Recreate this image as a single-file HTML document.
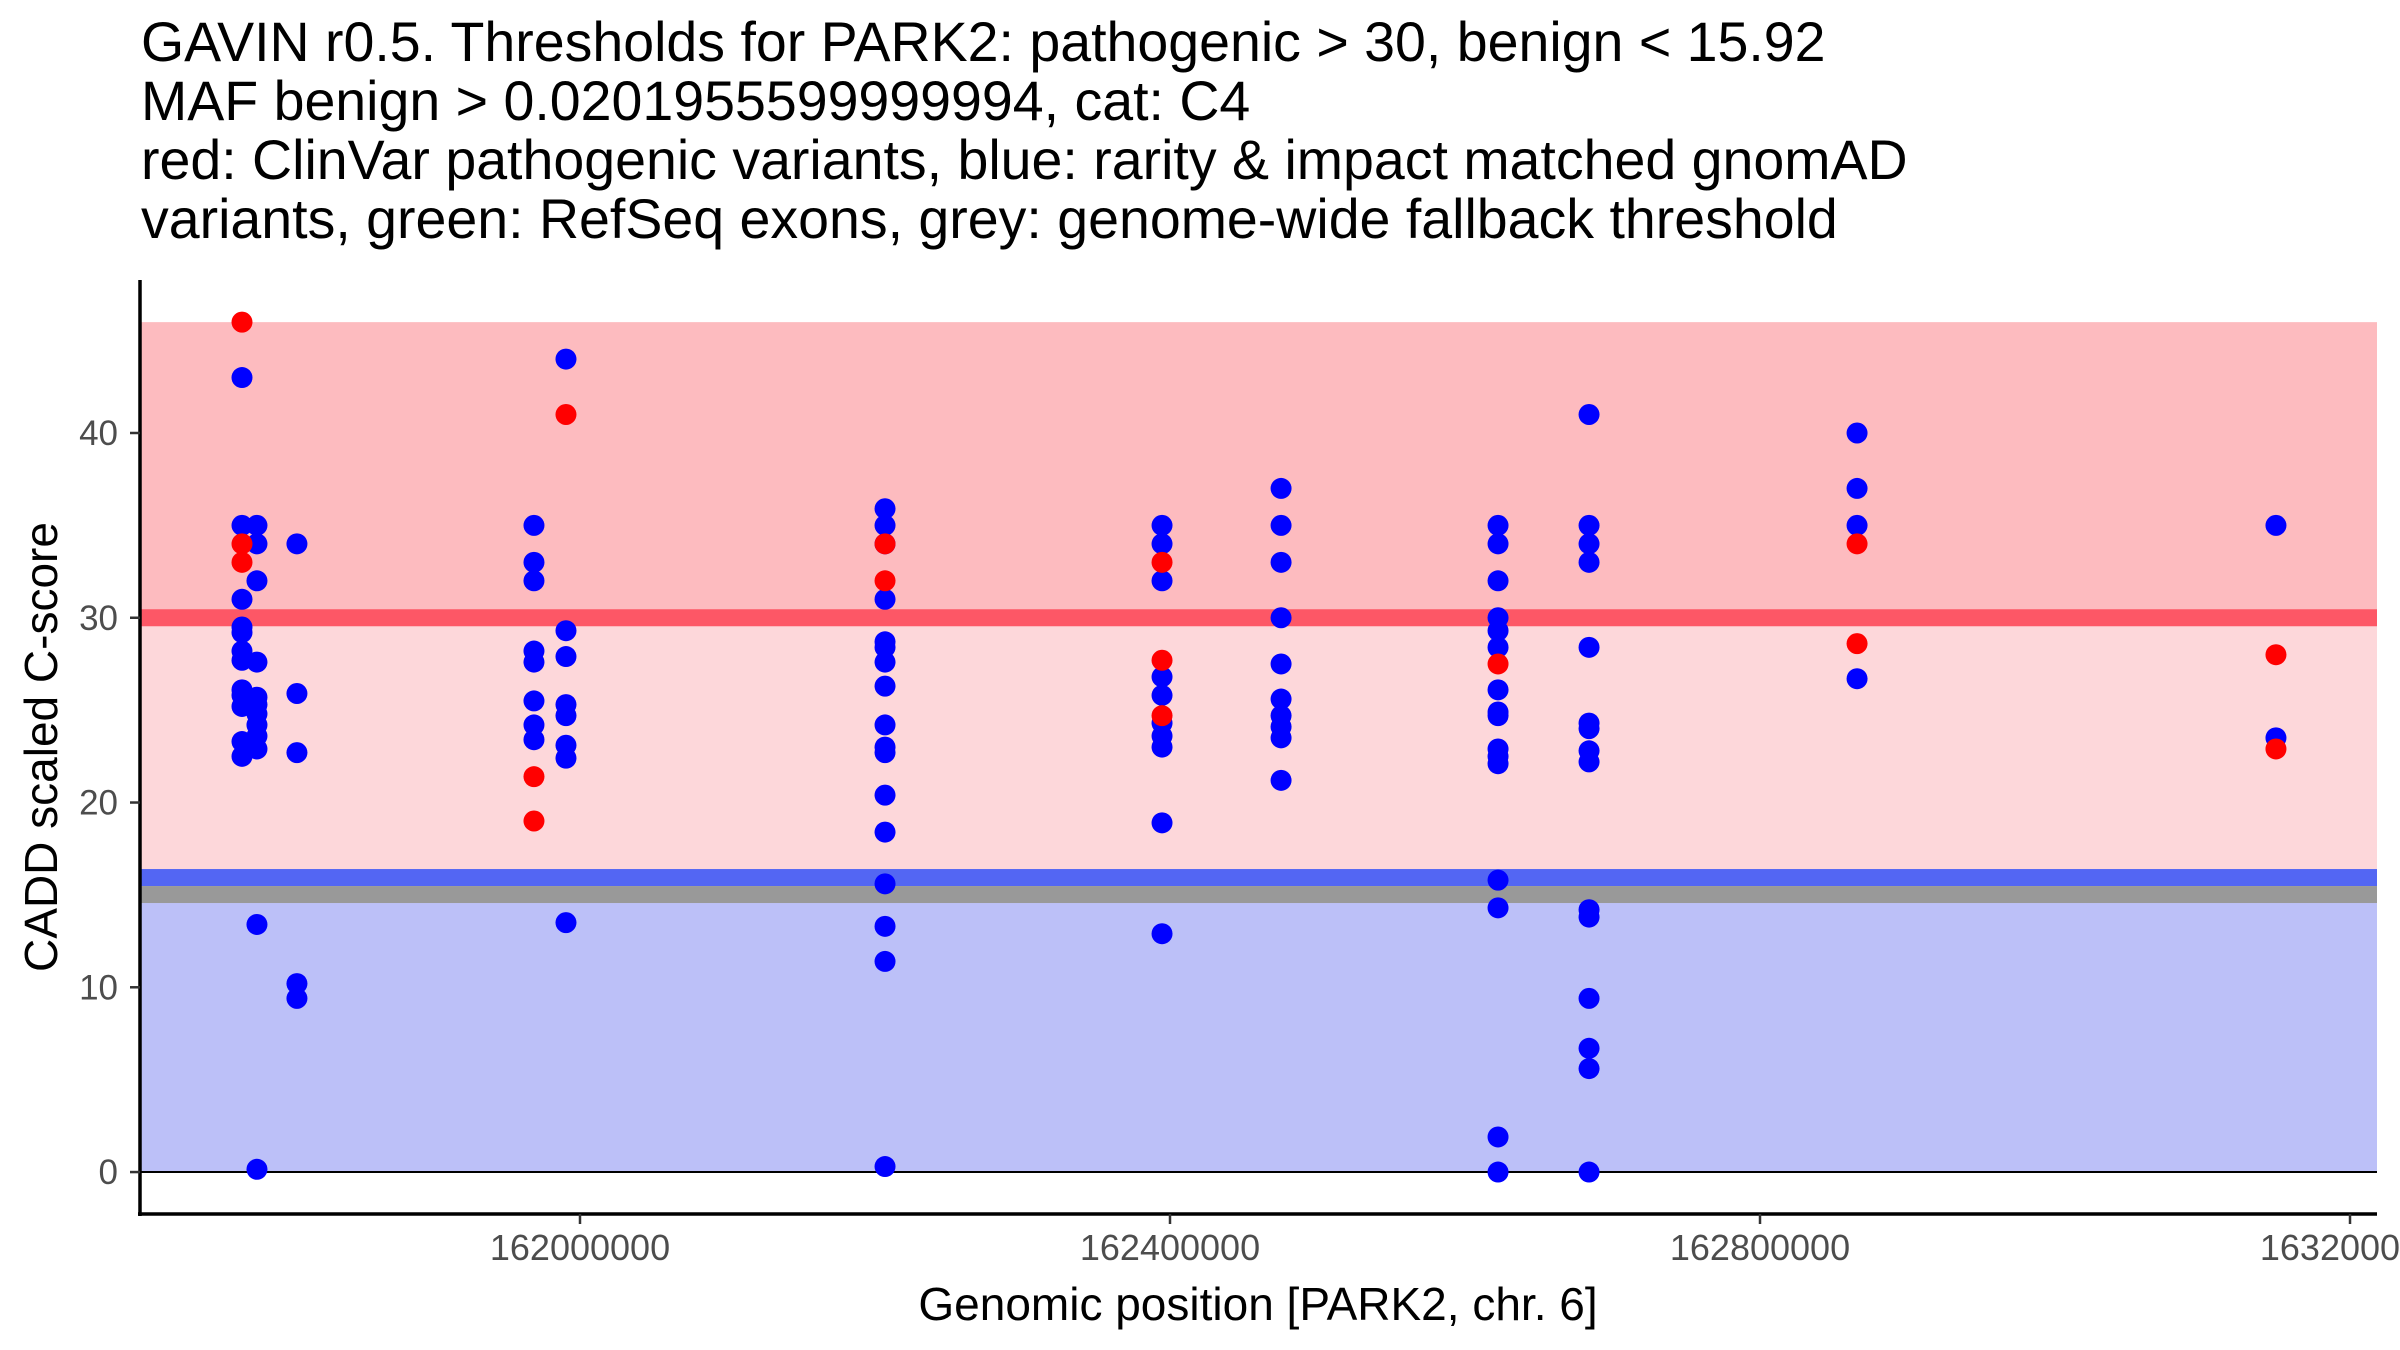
<!DOCTYPE html>
<html><head><meta charset="utf-8"><style>
html,body{margin:0;padding:0;background:#fff;}
svg{display:block;font-family:"Liberation Sans",Arial,sans-serif;}
</style></head><body>
<svg id="chart" width="2400" height="1350" viewBox="0 0 2400 1350" xmlns="http://www.w3.org/2000/svg">
<g font-size="55.5" fill="#000">
<text x="141" y="61">GAVIN r0.5. Thresholds for PARK2: pathogenic &gt; 30, benign &lt; 15.92</text>
<text x="141" y="120">MAF benign &gt; 0.0201955599999994, cat: C4</text>
<text x="141" y="179">red: ClinVar pathogenic variants, blue: rarity &amp; impact matched gnomAD</text>
<text x="141" y="238">variants, green: RefSeq exons, grey: genome-wide fallback threshold</text>
</g>
<g id="plot"></g>
<text x="1258" y="1320" font-size="46" text-anchor="middle" fill="#000">Genomic position [PARK2, chr. 6]</text>
<text transform="translate(57,747) rotate(-90)" font-size="46" text-anchor="middle" fill="#000">CADD scaled C-score</text>
</svg>
<script>
const xTicks = [162000000, 162400000, 162800000, 163200000];
const yTicks = [0, 10, 20, 30, 40];
const pathogenicThreshold = 30;
const benignThreshold = 15.92;
const fallbackLow = 14.56, fallbackHigh = 15.48;
const benignLineTop = 16.4;
const bandTop = 46;
const bluePos = [
161770850,161770850,161770850,161770850,161770850,161770850,161770850,161770850,161770850,161770850,161770850,161770850,
161781000,161781000,161781000,161781000,161781000,161781000,161781000,161781000,161781000,161781000,161781000,161781000,
161808100,161808100,161808100,161808100,161808100,
161968800,161968800,161968800,161968800,161968800,161968800,161968800,161968800,
161990500,161990500,161990500,161990500,161990500,161990500,161990500,161990500,
162206800,162206800,162206800,162206800,162206800,162206800,162206800,162206800,162206800,162206800,162206800,162206800,162206800,162206800,162206800,162206800,162206800,
162394600,162394600,162394600,162394600,162394600,162394600,162394600,162394600,162394600,162394600,
162475300,162475300,162475300,162475300,162475300,162475300,162475300,162475300,162475300,162475300,
162622400,162622400,162622400,162622400,162622400,162622400,162622400,162622400,162622400,162622400,162622400,162622400,162622400,162622400,162622400,162622400,
162684100,162684100,162684100,162684100,162684100,162684100,162684100,162684100,162684100,162684100,162684100,162684100,162684100,162684100,162684100,
162865800,162865800,162865800,162865800,
163149800,163149800];
const blueScore = [
43,35,31,29.5,29.2,28.2,27.7,26.1,25.8,25.2,23.3,22.5,
35,34,32,27.6,25.7,25.3,24.8,24.2,23.6,22.9,13.4,0.15,
34,25.9,22.7,10.2,9.4,
35,33,32,28.2,27.6,25.5,24.2,23.4,
44,29.3,27.9,25.3,24.7,23.1,22.4,13.5,
35.9,35,34,31,28.7,28.4,27.6,26.3,24.2,23,22.7,20.4,18.4,15.6,13.3,11.4,0.3,
35,34,32,26.8,25.8,24.3,23.6,23,18.9,12.9,
37,35,33,30,27.5,25.6,24.7,24.1,23.5,21.2,
35,34,32,30,29.3,28.4,26.1,24.9,24.7,22.9,22.5,22.1,15.8,14.3,1.9,0,
41,35,34,33,28.4,24.3,24,22.8,22.2,14.2,13.8,9.4,6.7,5.6,0,
40,37,35,26.7,
35,23.5];
const redPos = [161770850,161770850,161770850,161968800,161968800,161990500,162206800,162206800,162394600,162394600,162394600,162622400,162865800,162865800,163149800,163149800];
const redScore = [46,34,33,21.4,19,41,34,32,33,27.7,24.7,27.5,34,28.6,28,22.9];

const L=140,R=2377,T=280,B=1214;
const xMin=161701700,xMax=163218300,yMin=-2.27,yMax=48.28;
const sx=v=>L+(v-xMin)/(xMax-xMin)*(R-L);
const sy=v=>B-(v-yMin)/(yMax-yMin)*(B-T);
const NS='http://www.w3.org/2000/svg';
const plot=document.getElementById('plot');
function mk(tag,attrs){const e=document.createElementNS(NS,tag);for(const k in attrs)e.setAttribute(k,attrs[k]);plot.appendChild(e);return e;}
let e;
e=mk('rect',{x:L,y:sy(bandTop),width:R-L,height:sy(pathogenicThreshold)-sy(bandTop),fill:'#fdbbbf'});


e=mk('rect',{x:L,y:sy(pathogenicThreshold),width:R-L,height:sy(benignThreshold)-sy(pathogenicThreshold),fill:'#fdd7da'});


e=mk('rect',{x:L,y:sy(fallbackLow),width:R-L,height:sy(0)-sy(fallbackLow),fill:'#bcc0f8'});


e=mk('rect',{x:L,y:sy(pathogenicThreshold)-8.5,width:R-L,height:17,fill:'#fd5766'});


e=mk('rect',{x:L,y:sy(benignLineTop),width:R-L,height:sy(fallbackHigh)-sy(benignLineTop),fill:'#5366f3'});


e=mk('rect',{x:L,y:sy(fallbackHigh),width:R-L,height:sy(fallbackLow)-sy(fallbackHigh),fill:'#999999'});


e=mk('line',{x1:L,x2:R,y1:sy(0),y2:sy(0),stroke:'#000','stroke-width':2});


bluePos.forEach((p,i)=>{
  const c=mk('circle',{cx:sx(p),cy:sy(blueScore[i]),r:10.5,fill:'#0000ff'});
  
  
});
redPos.forEach((p,i)=>{
  const c=mk('circle',{cx:sx(p),cy:sy(redScore[i]),r:10.5,fill:'#ff0000'});
  
  
});
e=mk('line',{x1:L,x2:L,y1:T,y2:B+2,stroke:'#000','stroke-width':3.5});


e=mk('line',{x1:L-2,x2:R,y1:B,y2:B,stroke:'#000','stroke-width':3.5});


yTicks.forEach(v=>{
  const t=mk('line',{x1:L-10,x2:L,y1:sy(v),y2:sy(v),stroke:'#333','stroke-width':2.5});
  
  
  const s=mk('text',{x:L-22,y:sy(v)+12,'font-size':35,'text-anchor':'end',fill:'#4d4d4d'});
  s.textContent=v;
  
  
});
xTicks.forEach(v=>{
  const t=mk('line',{x1:sx(v),x2:sx(v),y1:B,y2:B+10,stroke:'#333','stroke-width':2.5});
  
  
  const s=mk('text',{x:sx(v),y:B+46,'font-size':36,'text-anchor':'middle',fill:'#4d4d4d'});
  s.textContent=v;
  
  
});
</script>
</body></html>
